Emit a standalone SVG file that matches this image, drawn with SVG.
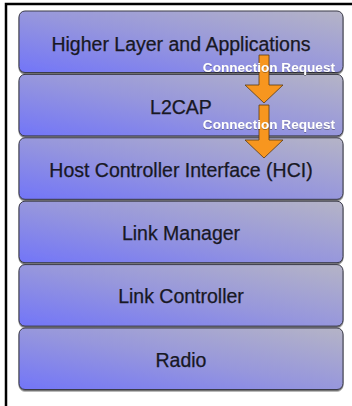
<svg xmlns="http://www.w3.org/2000/svg" width="352" height="406" viewBox="0 0 352 406">
  <defs>
    <linearGradient id="boxFill" x1="0" y1="1" x2="1" y2="0">
      <stop offset="0" stop-color="#7275f8"/>
      <stop offset="0.5" stop-color="#9797dc"/>
      <stop offset="1" stop-color="#b5b4c6"/>
    </linearGradient>
    <filter id="shadow" x="-5%" y="-5%" width="110%" height="115%">
      <feDropShadow dx="0" dy="1.5" stdDeviation="0.6" flood-color="#000" flood-opacity="0.55"/>
    </filter>
    <filter id="txtShadow" x="-5%" y="-20%" width="110%" height="140%">
      <feDropShadow dx="0" dy="0.6" stdDeviation="0.4" flood-color="#000" flood-opacity="0.5"/>
    </filter>
  </defs>
  <style>
    .box { fill: url(#boxFill); stroke: #3a3a48; stroke-width: 1; filter: url(#shadow); }
    .lbl { font-family: "Liberation Sans", Arial, sans-serif; font-size: 19.5px; fill: #181824; stroke: #181824; stroke-width: 0.25; text-anchor: middle; }
    .req { font-family: "Liberation Sans", Arial, sans-serif; font-size: 13.6px; font-weight: bold; fill: #ffffff; text-anchor: end; filter: url(#txtShadow); }
    .arrow { fill: #f7961f; stroke: #5b3a12; stroke-width: 0.8; }
  </style>
  <rect x="0" y="0" width="352" height="406" fill="#ffffff"/>
  <path d="M6,406 V4 H352" fill="none" stroke="#000" stroke-width="2.5"/>

  <g id="higher-layer">
    <rect class="box" x="19" y="11" width="324" height="61.5" rx="6"/>
    <text class="lbl" x="181" y="50.5">Higher Layer and Applications</text>
  </g>
  <g id="l2cap">
    <rect class="box" x="19" y="74.4" width="324" height="61.5" rx="6"/>
    <text class="lbl" x="181" y="113.5">L2CAP</text>
  </g>
  <g id="hci">
    <rect class="box" x="19" y="137.8" width="324" height="61.5" rx="6"/>
    <text class="lbl" x="181" y="176.5">Host Controller Interface (HCI)</text>
  </g>
  <g id="link-manager">
    <rect class="box" x="19" y="201.2" width="324" height="61.5" rx="6"/>
    <text class="lbl" x="181" y="239.5">Link Manager</text>
  </g>
  <g id="link-controller">
    <rect class="box" x="19" y="264.6" width="324" height="61.5" rx="6"/>
    <text class="lbl" x="181" y="303">Link Controller</text>
  </g>
  <g id="radio">
    <rect class="box" x="19" y="328" width="324" height="61.5" rx="6"/>
    <text class="lbl" x="181" y="366.5">Radio</text>
  </g>

  <g id="connectors">
    <path class="arrow" d="M259,55 H269 V85 H283 L264,103 L245,85 H259 Z"/>
    <path class="arrow" d="M259,105 H269 V140 H283 L264,158 L245,140 H259 Z"/>
    <text class="req" x="335" y="71.5">Connection Request</text>
    <text class="req" x="335" y="128.5">Connection Request</text>
  </g>
</svg>
